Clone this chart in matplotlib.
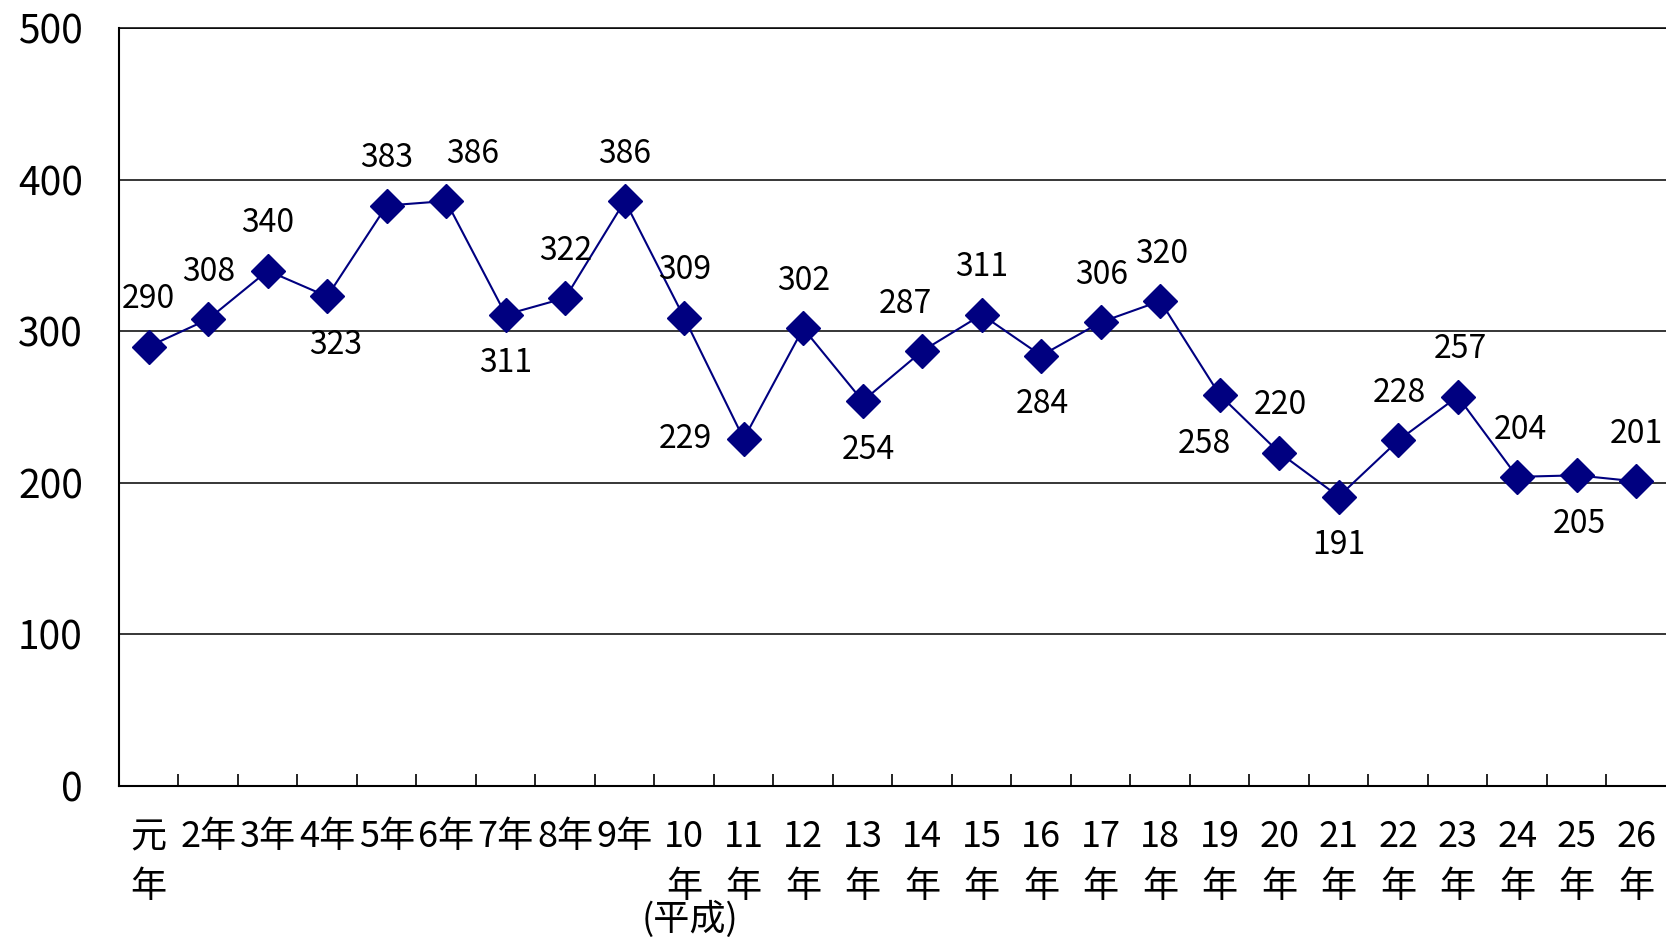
import matplotlib
matplotlib.use("Agg")
import matplotlib.pyplot as plt
from matplotlib.ticker import FixedLocator

plt.rcParams['font.family'] = ['Noto Sans CJK JP', 'DejaVu Sans']

# 平成元年〜26年の件数
nen_labels = ["元\n年", "2年", "3年", "4年", "5年", "6年", "7年", "8年", "9年",
              "10\n年", "11\n年", "12\n年", "13\n年", "14\n年", "15\n年", "16\n年",
              "17\n年", "18\n年", "19\n年", "20\n年", "21\n年", "22\n年", "23\n年",
              "24\n年", "25\n年", "26\n年"]
kensu = [290, 308, 340, 323, 383, 386, 311, 322, 386, 309, 229, 302, 254,
         287, 311, 284, 306, 320, 258, 220, 191, 228, 257, 204, 205, 201]
y_ticks = [0, 100, 200, 300, 400, 500]

# ラベルの位置 (a=上, b=下, l=左) と横方向の微調整 (pt)
label_pos = ['a', 'a', 'a', 'b', 'a', 'a', 'b', 'a', 'a', 'a', 'l', 'a', 'b',
             'a', 'a', 'b', 'a', 'a', 'b', 'a', 'b', 'a', 'a', 'a', 'b', 'a']
label_dx = [0, 0, 0, 6, 0, 19, 0, 0, 0, 0, 0, 0, 4,
            -12, 0, 1, 1, 1, -11, 1, 0, 1, 2, 2, 2, 0]

fig = plt.figure(figsize=(16.66, 9.41), dpi=100)
ax = fig.add_axes([0.0714, 0.1647, 1 - 0.0714, 0.970 - 0.1647])

x = list(range(len(kensu)))
ax.plot(x, kensu, color='#000080', linewidth=1.5, marker='D',
        markersize=17, markerfacecolor='#000080', markeredgecolor='#000080',
        zorder=3, clip_on=False)

for i, v in enumerate(kensu):
    pos = label_pos[i]
    if pos == 'a':
        off = (label_dx[i], 34)
    elif pos == 'b':
        off = (label_dx[i], -35)
    else:
        off = (-42, 0)
    ax.annotate(str(v), (i, v), xytext=off, textcoords='offset points',
                ha='center', va='center', fontsize=23, color='black',
                annotation_clip=False)

ax.set_xlim(-0.5, len(kensu) - 0.5)
ax.set_ylim(0, 500)
ax.set_yticks(y_ticks)
ax.set_yticklabels([str(t) for t in y_ticks])
ax.yaxis.grid(True, color='black', linewidth=1.1)
ax.set_axisbelow(True)

ax.set_xticks(x)
ax.set_xticklabels(nen_labels, linespacing=1.5)
ax.xaxis.set_minor_locator(FixedLocator([i + 0.5 for i in range(len(kensu) - 1)]))
ax.tick_params(axis='x', which='major', length=0, pad=24, labelsize=26)
ax.tick_params(axis='x', which='minor', direction='in', length=8.5, width=1.2,
               color='black')
ax.tick_params(axis='y', length=0, pad=26, labelsize=28)
for lab in ax.get_xticklabels():
    lab.set_verticalalignment('top')

ax.spines['right'].set_visible(False)
for s in ['left', 'bottom', 'top']:
    ax.spines[s].set_color('black')
ax.spines['left'].set_linewidth(1.5)
ax.spines['bottom'].set_linewidth(1.5)
ax.spines['top'].set_linewidth(1.1)

fig.text(690 / 1666, 0.012, "(平成)", ha='center', va='baseline', fontsize=26)

fig.savefig('out.png', dpi=100)
